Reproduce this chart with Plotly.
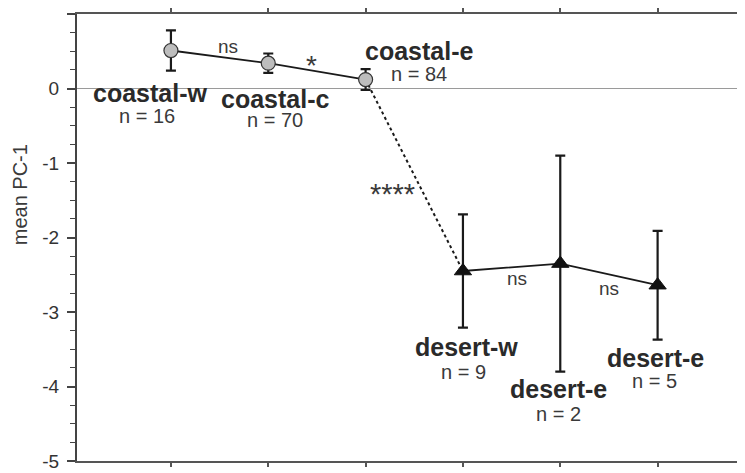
import plotly.graph_objects as go

groups = ["coastal-w", "coastal-c", "coastal-e", "desert-w", "desert-e", "desert-e"]
n_sizes = [16, 70, 84, 9, 2, 5]
means = [0.51, 0.34, 0.12, -2.45, -2.35, -2.64]
errors = [0.27, 0.13, 0.14, 0.76, 1.45, 0.73]
sig_labels = ["ns", "*", "****", "ns", "ns"]
y_ticks = [-5, -4, -3, -2, -1, 0, 1]
y_tick_text = ["-5", "-4", "-3", "-2", "-1", "0", "1"]

xs = list(range(1, len(groups) + 1))
coastal_idx = [0, 1, 2]
desert_idx = [3, 4, 5]

# label offsets in pixels (name, n)
name_shift = [(-21, -42), (7, -36), (53, 29), (4, -76), (-2, -125), (-2, -73)]
n_shift = [(-24, -65), (7, -57), (53, 6), (1, -101), (-2, -150), (-3, -96)]
sig_shift = [(8, 10), (-5, 6), (-22, -19), (5, -11), (0, -14)]
sig_size = [19, 28, 29, 19, 19]

FONT = "Liberation Sans, Arial, Helvetica, sans-serif"
DARK = "#1a1a1a"

fig = go.Figure()

# dotted connector between coastal-e and desert-w
fig.add_trace(go.Scatter(x=[xs[2], xs[3]], y=[means[2], means[3]], mode="lines",
                         line=dict(color=DARK, width=2, dash="dot"), showlegend=False,
                         hoverinfo="skip"))

fig.add_trace(go.Scatter(
    x=[xs[i] for i in coastal_idx], y=[means[i] for i in coastal_idx],
    error_y=dict(type="data", array=[errors[i] for i in coastal_idx], color=DARK,
                 thickness=2.2, width=5),
    mode="lines+markers",
    line=dict(color=DARK, width=1.8),
    marker=dict(symbol="circle", size=14, color="#bdbdbd", line=dict(color="#333333", width=1.2)),
    showlegend=False))

fig.add_trace(go.Scatter(
    x=[xs[i] for i in desert_idx], y=[means[i] for i in desert_idx],
    error_y=dict(type="data", array=[errors[i] for i in desert_idx], color=DARK,
                 thickness=2.2, width=5),
    mode="lines+markers",
    line=dict(color=DARK, width=1.8),
    marker=dict(symbol="triangle-up", size=15, color="#111111", line=dict(color="#111111", width=1)),
    showlegend=False))

annotations = []
for i, g in enumerate(groups):
    annotations.append(dict(x=xs[i], y=means[i], text=f"<b>{g}</b>", showarrow=False,
                            xshift=name_shift[i][0], yshift=name_shift[i][1],
                            font=dict(family=FONT, size=25, color="#2a2a2a")))
    annotations.append(dict(x=xs[i], y=means[i], text=f"n = {n_sizes[i]}", showarrow=False,
                            xshift=n_shift[i][0], yshift=n_shift[i][1],
                            font=dict(family=FONT, size=20, color="#3a3a3a")))
for k, s in enumerate(sig_labels):
    xm = (xs[k] + xs[k + 1]) / 2
    ym = (means[k] + means[k + 1]) / 2
    annotations.append(dict(x=xm, y=ym, text=s, showarrow=False,
                            xshift=sig_shift[k][0], yshift=sig_shift[k][1],
                            font=dict(family=FONT, size=sig_size[k], color="#3a3a3a")))

annotations.append(dict(xref="paper", yref="paper", x=-0.084, y=0.595, text="mean PC-1",
                        textangle=-90, showarrow=False, xanchor="center", yanchor="middle",
                        font=dict(family=FONT, size=20, color="#3a3a3a")))

fig.update_layout(
    width=745, height=473,
    margin=dict(l=69, r=0, t=6, b=20),
    paper_bgcolor="white", plot_bgcolor="white",
    font=dict(family=FONT, color="#333333"),
    annotations=annotations,
    xaxis=dict(range=[0.035, 6.98], tickvals=xs, showticklabels=False, ticks="outside",
               ticklen=4, tickwidth=1.5, tickcolor="#555", showgrid=False, zeroline=False,
               showline=True, linecolor="#555", linewidth=1.8, mirror="ticks",
               automargin=False),
    yaxis=dict(range=[-5, 1], tickvals=y_ticks, ticktext=y_tick_text, ticks="outside",
               ticklen=8, tickwidth=1.5, tickcolor="#444",
               minor=dict(dtick=0.25, ticks="outside", ticklen=5, tickwidth=1.2, tickcolor="#444"),
               tickfont=dict(family=FONT, size=19, color="#333"), ticklabelstandoff=4,
               showgrid=False, zeroline=True, zerolinecolor="#9a9a9a", zerolinewidth=1,
               showline=True, linecolor="#444", linewidth=2, automargin=False),
)

fig.write_html("out.html")
